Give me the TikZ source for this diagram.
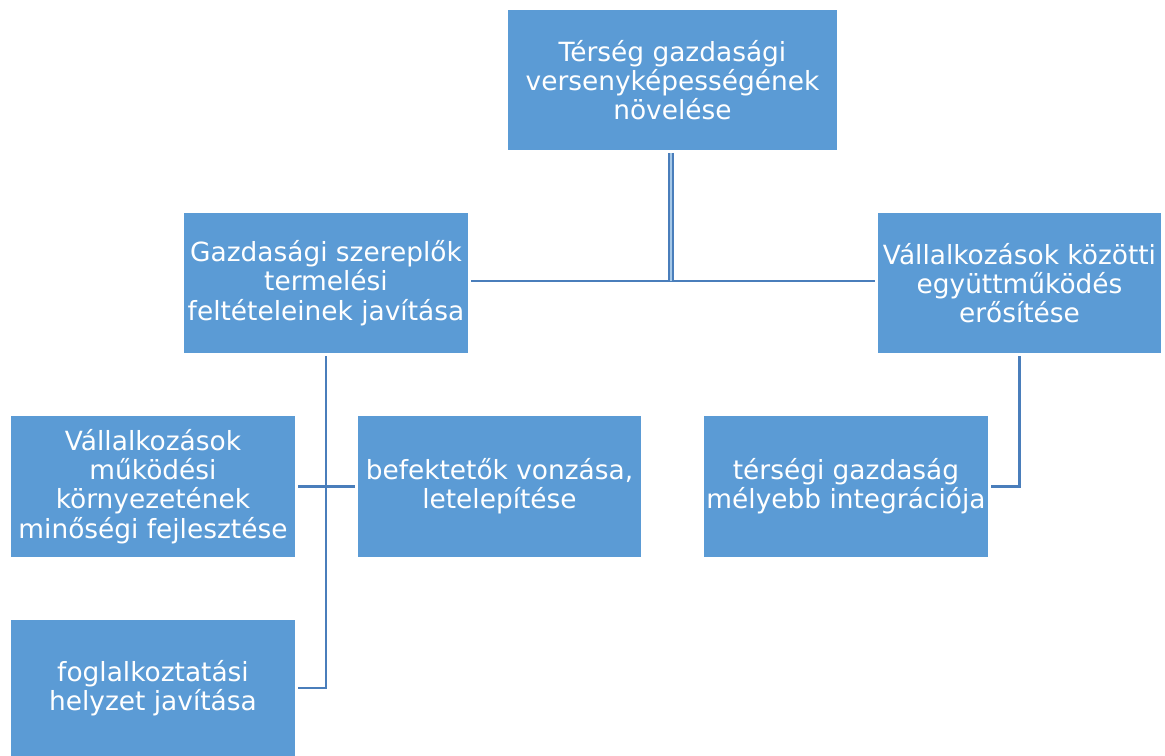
\documentclass[tikz,border=0pt]{standalone}
\usepackage{fontspec}
\setmainfont{DejaVu Sans}
\definecolor{boxblue}{RGB}{91,155,213}
\definecolor{lineblue}{RGB}{74,126,187}
\begin{document}
\begin{tikzpicture}[x=0.75pt,y=-0.75pt,
  box/.style={fill=boxblue,text=white,align=center,inner sep=0pt,outer sep=2.25pt,
    font=\fontsize{19.8}{22}\selectfont},
  conn/.style={draw=lineblue,line width=2pt}]
\useasboundingbox (0,0) rectangle (1165,756);
\node[box,minimum width=329*0.75pt,minimum height=140*0.75pt] (t) at (672.5,80) {Térség gazdasági\\versenyképességének\\növelése};
\node[box,minimum width=284*0.75pt,minimum height=140*0.75pt] (g) at (326,283) {Gazdasági szereplők\\termelési\\feltételeinek javítása};
\node[box,minimum width=283*0.75pt,minimum height=140*0.75pt] (v) at (1019.5,283) {Vállalkozások közötti\\együttműködés\\erősítése};
\node[box,minimum width=284*0.75pt,minimum height=141*0.75pt] (m) at (153,486.5) {Vállalkozások\\működési\\környezetének\\minőségi fejlesztése};
\node[box,minimum width=283*0.75pt,minimum height=141*0.75pt] (b) at (499.5,486.5) {befektetők vonzása,\\letelepítése};
\node[box,minimum width=284*0.75pt,minimum height=141*0.75pt] (i) at (846,486.5) {térségi gazdaság\\mélyebb integrációja};
\node[box,minimum width=284*0.75pt,minimum height=136*0.75pt] (f) at (153,688) {foglalkoztatási\\helyzet javítása};
\coordinate (j) at (671,281);
\draw[conn] (g.east |- j) -- (v.west |- j);
\draw[draw=lineblue,line width=1.5pt,double=boxblue!55!white,double distance=1.5pt] (t.south -| j) -- (j);
\draw[conn] (g.south) -- (g.south |- f.east) -- (f.east);
\draw[conn] (m.east) -- (b.west);
\draw[conn] (v.south) -- (v.south |- i.east) -- (i.east);
\end{tikzpicture}
\end{document}
